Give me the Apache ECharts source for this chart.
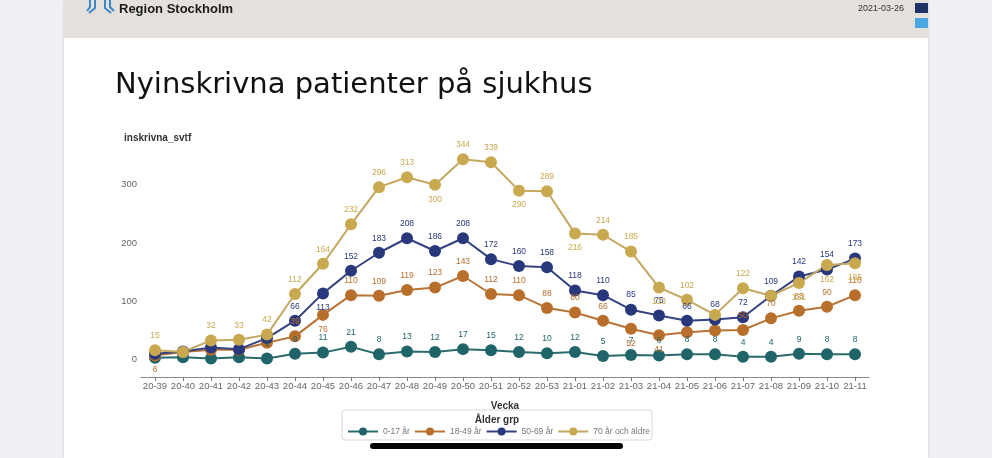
<!DOCTYPE html>
<html>
<head>
<meta charset="utf-8">
<script src="https://cdn.jsdelivr.net/npm/echarts@6/dist/echarts.min.js"></script>
<style>
html,body{margin:0;padding:0;background:#eff0f4;}
#c{width:992px;height:458px;}
</style>
</head>
<body>
<div id="c"></div>
<script>
// ---- data ----
var weeks = ['20-39','20-40','20-41','20-42','20-43','20-44','20-45','20-46','20-47','20-48','20-49','20-50','20-51','20-52','20-53',
             '21-01','21-02','21-03','21-04','21-05','21-06','21-07','21-08','21-09','21-10','21-11'];
var seriesNames = ['0-17 år','18-49 år','50-69 år','70 år och äldre'];
var age0_17  = [2,3,1,3,1,9,11,21,8,13,12,17,15,12,10, 12,5,7,6,8,8,4,4,9,8,8];
var age18_49 = [6,12,16,16,28,39,76,110,109,119,123,143,112,110,88, 80,66,52,41,46,49,50,70,83,90,110];
var age50_69 = [9,13,20,17,36,66,113,152,183,208,186,208,172,160,158, 118,110,85,75,66,68,72,109,142,154,173];
var age70    = [15,12,32,33,42,112,164,232,296,313,300,344,339,290,289, 216,214,185,123,102,76,122,109,131,162,165];
var yTicks = [0,100,200,300];

// ---- label styling (which labels hidden / placed below) ----
var hidden = [[0,1,2,3],[1,2,3,4,19,20],[0,1,2,3,4],[1,20,22]];
var below  = [[],[0,6,17,18],[6],[10,13,15,18,23,24,25]];
var colors = ['#1f6468','#b86f2b','#29387c','#c9a94f'];
var lineColors = ['#2b6a6d','#b87436','#34427f','#c4a760'];
var allData = [age0_17, age18_49, age50_69, age70];

function buildData(k){
  return allData[k].map(function(v,i){
    var o = {value:v};
    if (hidden[k].indexOf(i) >= 0) o.label = {show:false};
    else if (below[k].indexOf(i) >= 0) o.label = {position:'bottom'};
    return o;
  });
}

var chart = echarts.init(document.getElementById('c'));
var series = seriesNames.map(function(n,k){
  return {
    name:n, type:'line', data:buildData(k),
    symbol:'circle', symbolSize:12,
    itemStyle:{color:colors[k]},
    lineStyle:{color:lineColors[k], width:2},
    label:{show:true, position:'top', distance:4, fontSize:8.5, color:colors[k], fontFamily:'Liberation Sans'},
    emphasis:{disabled:true}, animation:false
  };
});

chart.setOption({
  animation:false,
  backgroundColor:'#eff0f4',
  textStyle:{fontFamily:'Liberation Sans'},
  grid:{left:141, right:123, top:150, bottom:99, containLabel:false},
  xAxis:{
    type:'category', data:weeks, boundaryGap:true, offset:18,
    axisLine:{onZero:false, lineStyle:{color:'#8a8a8a'}},
    axisTick:{show:true, alignWithLabel:true, length:4, lineStyle:{color:'#777'}},
    axisLabel:{fontSize:9.5, color:'#666', margin:4, interval:0},
    name:'Vecka', nameLocation:'middle', nameGap:24,
    nameTextStyle:{fontSize:10, fontWeight:'bold', color:'#333'}
  },
  yAxis:{
    type:'value', min:0, max:360, interval:100,
    axisLine:{show:false}, axisTick:{show:false}, splitLine:{show:false},
    axisLabel:{fontSize:9.5, color:'#666', margin:4, showMaxLabel:false,
      formatter:function(v){ return yTicks.indexOf(v)>=0 ? String(v) : ''; }}
  },
  legend:{
    data:seriesNames, left:347, top:427, padding:0, itemWidth:30, itemHeight:10, itemGap:4,
    textStyle:{fontSize:8.5, color:'#777'}
  },
  graphic:[
    {type:'rect', z:-10, shape:{x:64,y:0,width:864,height:458}, style:{fill:'#ffffff', shadowBlur:3, shadowColor:'rgba(0,0,0,0.15)'}},
    {type:'rect', z:-9, shape:{x:64,y:0,width:864,height:38}, style:{fill:'#e4e1dc'}},
    {type:'rect', z:-8, shape:{x:915,y:3,width:13,height:10}, style:{fill:'#1b3464'}},
    {type:'rect', z:-8, shape:{x:915,y:18,width:13,height:10}, style:{fill:'#4aa6e0'}},
    // logo mark
    {type:'polyline', z:-8, shape:{points:[[90,0],[90,7],[87,11]]}, style:{stroke:'#3a86c8', lineWidth:2, fill:null}},
    {type:'polyline', z:-8, shape:{points:[[95,0],[95,8],[89,13]]}, style:{stroke:'#3a86c8', lineWidth:2, fill:null}},
    {type:'polyline', z:-8, shape:{points:[[105,0],[105,8],[111,13]]}, style:{stroke:'#3a86c8', lineWidth:2, fill:null}},
    {type:'polyline', z:-8, shape:{points:[[110,0],[110,7],[114,11]]}, style:{stroke:'#3a86c8', lineWidth:2, fill:null}},
    {type:'text', z:-8, x:119, y:3, style:{text:'Region Stockholm', font:'bold 13px "Liberation Sans"', fill:'#1a1a1a'}},
    {type:'text', z:-8, x:904, y:4, style:{text:'2021-03-26', font:'9px "Liberation Sans"', fill:'#333', align:'right'}},
    {type:'text', z:-8, x:115, y:71, style:{text:'Nyinskrivna patienter på sjukhus', font:'29px "DejaVu Sans"', fill:'#111'}},
    {type:'text', z:-8, x:124, y:133, style:{text:'inskrivna_svtf', font:'bold 10px "Liberation Sans"', fill:'#333'}},
    {type:'rect', z:-8, shape:{x:342,y:410,width:310,height:30,r:3}, style:{fill:'#fff', stroke:'#d8d8d8', lineWidth:1}},
    {type:'text', z:-7, x:497, y:415, style:{text:'Ålder grp', font:'bold 10px "Liberation Sans"', fill:'#333', align:'center'}},
    {type:'rect', z:10, shape:{x:370,y:443,width:253,height:6,r:3}, style:{fill:'#000'}}
  ],
  series:series
});
</script>
</body>
</html>
